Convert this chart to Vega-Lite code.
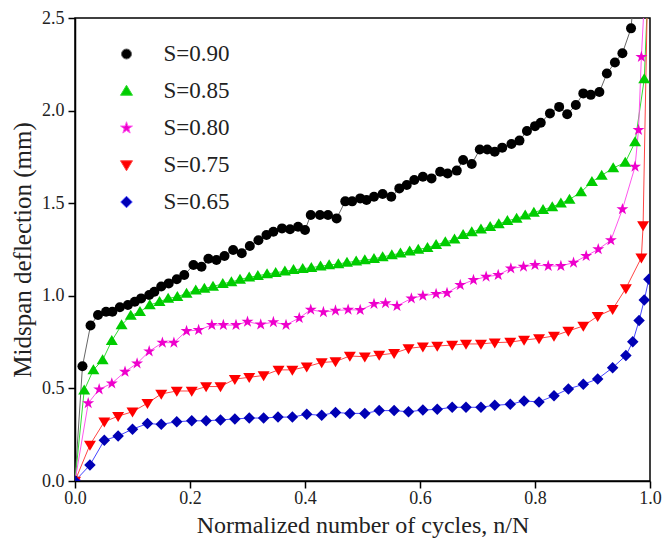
{
  "$schema": "https://vega.github.io/schema/vega-lite/v6.json",
  "width": 575,
  "height": 463,
  "autosize": {"type": "none"},
  "padding": {"left": 75, "top": 18, "right": 12, "bottom": 58},
  "background": "white",
  "config": {
    "view": {"stroke": "#000000", "strokeWidth": 1.5},
    "axis": {
      "grid": false,
      "zindex": 1,
      "labelFlush": false,
      "labelOverlap": false,
      "domainColor": "#000000",
      "domainWidth": 1.5,
      "tickColor": "#000000",
      "tickWidth": 1.5,
      "tickSize": 7,
      "labelFont": "Liberation Serif",
      "labelFontSize": 18,
      "labelColor": "#222222",
      "titleFont": "Liberation Serif",
      "titleFontSize": 24,
      "titleFontWeight": "normal",
      "titleColor": "#222222"
    },
    "legend": {
      "orient": "none", "legendX": 40, "legendY": 24.5, "title": null, "padding": 0,
      "symbolSize": 100, "labelFont": "Liberation Serif", "labelFontSize": 23, "labelColor": "#222222",
      "labelOffset": 25.5, "rowPadding": 13
    }
  },
  "data": {
    "values": [
      {"s": "S=0.90", "x": 0, "y": 0},
      {"s": "S=0.90", "x": 0.013, "y": 0.62},
      {"s": "S=0.90", "x": 0.027, "y": 0.84},
      {"s": "S=0.90", "x": 0.04, "y": 0.896},
      {"s": "S=0.90", "x": 0.054, "y": 0.914},
      {"s": "S=0.90", "x": 0.065, "y": 0.914},
      {"s": "S=0.90", "x": 0.078, "y": 0.938},
      {"s": "S=0.90", "x": 0.092, "y": 0.95},
      {"s": "S=0.90", "x": 0.104, "y": 0.968},
      {"s": "S=0.90", "x": 0.115, "y": 0.986},
      {"s": "S=0.90", "x": 0.129, "y": 1.004},
      {"s": "S=0.90", "x": 0.138, "y": 1.022},
      {"s": "S=0.90", "x": 0.15, "y": 1.05},
      {"s": "S=0.90", "x": 0.163, "y": 1.067},
      {"s": "S=0.90", "x": 0.177, "y": 1.089},
      {"s": "S=0.90", "x": 0.19, "y": 1.112},
      {"s": "S=0.90", "x": 0.206, "y": 1.166},
      {"s": "S=0.90", "x": 0.22, "y": 1.157},
      {"s": "S=0.90", "x": 0.232, "y": 1.2},
      {"s": "S=0.90", "x": 0.246, "y": 1.193},
      {"s": "S=0.90", "x": 0.26, "y": 1.215},
      {"s": "S=0.90", "x": 0.275, "y": 1.247},
      {"s": "S=0.90", "x": 0.29, "y": 1.23},
      {"s": "S=0.90", "x": 0.304, "y": 1.269},
      {"s": "S=0.90", "x": 0.319, "y": 1.3},
      {"s": "S=0.90", "x": 0.333, "y": 1.328},
      {"s": "S=0.90", "x": 0.345, "y": 1.346},
      {"s": "S=0.90", "x": 0.36, "y": 1.364},
      {"s": "S=0.90", "x": 0.374, "y": 1.359},
      {"s": "S=0.90", "x": 0.388, "y": 1.373},
      {"s": "S=0.90", "x": 0.4, "y": 1.355},
      {"s": "S=0.90", "x": 0.41, "y": 1.436},
      {"s": "S=0.90", "x": 0.426, "y": 1.436},
      {"s": "S=0.90", "x": 0.44, "y": 1.436},
      {"s": "S=0.90", "x": 0.455, "y": 1.418},
      {"s": "S=0.90", "x": 0.47, "y": 1.51},
      {"s": "S=0.90", "x": 0.482, "y": 1.51},
      {"s": "S=0.90", "x": 0.496, "y": 1.526},
      {"s": "S=0.90", "x": 0.507, "y": 1.517},
      {"s": "S=0.90", "x": 0.52, "y": 1.535},
      {"s": "S=0.90", "x": 0.535, "y": 1.55},
      {"s": "S=0.90", "x": 0.55, "y": 1.535},
      {"s": "S=0.90", "x": 0.564, "y": 1.58},
      {"s": "S=0.90", "x": 0.577, "y": 1.598},
      {"s": "S=0.90", "x": 0.59, "y": 1.625},
      {"s": "S=0.90", "x": 0.605, "y": 1.643},
      {"s": "S=0.90", "x": 0.62, "y": 1.634},
      {"s": "S=0.90", "x": 0.635, "y": 1.67},
      {"s": "S=0.90", "x": 0.648, "y": 1.66},
      {"s": "S=0.90", "x": 0.664, "y": 1.676},
      {"s": "S=0.90", "x": 0.675, "y": 1.733},
      {"s": "S=0.90", "x": 0.69, "y": 1.712},
      {"s": "S=0.90", "x": 0.704, "y": 1.79},
      {"s": "S=0.90", "x": 0.717, "y": 1.79},
      {"s": "S=0.90", "x": 0.73, "y": 1.778},
      {"s": "S=0.90", "x": 0.743, "y": 1.8},
      {"s": "S=0.90", "x": 0.759, "y": 1.82},
      {"s": "S=0.90", "x": 0.773, "y": 1.838},
      {"s": "S=0.90", "x": 0.786, "y": 1.89},
      {"s": "S=0.90", "x": 0.8, "y": 1.916},
      {"s": "S=0.90", "x": 0.81, "y": 1.934},
      {"s": "S=0.90", "x": 0.826, "y": 1.985},
      {"s": "S=0.90", "x": 0.842, "y": 2.02},
      {"s": "S=0.90", "x": 0.856, "y": 1.98},
      {"s": "S=0.90", "x": 0.871, "y": 2.03},
      {"s": "S=0.90", "x": 0.884, "y": 2.093},
      {"s": "S=0.90", "x": 0.897, "y": 2.085},
      {"s": "S=0.90", "x": 0.912, "y": 2.1},
      {"s": "S=0.90", "x": 0.925, "y": 2.2},
      {"s": "S=0.90", "x": 0.939, "y": 2.26},
      {"s": "S=0.90", "x": 0.952, "y": 2.31},
      {"s": "S=0.90", "x": 0.967, "y": 2.444},
      {"s": "S=0.90", "x": 0.974, "y": 2.7},

      {"s": "S=0.85", "x": 0, "y": 0},
      {"s": "S=0.85", "x": 0.016, "y": 0.49},
      {"s": "S=0.85", "x": 0.032, "y": 0.6},
      {"s": "S=0.85", "x": 0.048, "y": 0.653},
      {"s": "S=0.85", "x": 0.064, "y": 0.757},
      {"s": "S=0.85", "x": 0.081, "y": 0.842},
      {"s": "S=0.85", "x": 0.097, "y": 0.893},
      {"s": "S=0.85", "x": 0.113, "y": 0.914},
      {"s": "S=0.85", "x": 0.13, "y": 0.95},
      {"s": "S=0.85", "x": 0.147, "y": 0.968},
      {"s": "S=0.85", "x": 0.162, "y": 0.986},
      {"s": "S=0.85", "x": 0.178, "y": 0.995},
      {"s": "S=0.85", "x": 0.194, "y": 1.013},
      {"s": "S=0.85", "x": 0.21, "y": 1.03},
      {"s": "S=0.85", "x": 0.225, "y": 1.04},
      {"s": "S=0.85", "x": 0.24, "y": 1.05},
      {"s": "S=0.85", "x": 0.257, "y": 1.065},
      {"s": "S=0.85", "x": 0.272, "y": 1.075},
      {"s": "S=0.85", "x": 0.287, "y": 1.088},
      {"s": "S=0.85", "x": 0.303, "y": 1.1},
      {"s": "S=0.85", "x": 0.318, "y": 1.108},
      {"s": "S=0.85", "x": 0.334, "y": 1.118},
      {"s": "S=0.85", "x": 0.349, "y": 1.125},
      {"s": "S=0.85", "x": 0.365, "y": 1.132},
      {"s": "S=0.85", "x": 0.38, "y": 1.14},
      {"s": "S=0.85", "x": 0.396, "y": 1.146},
      {"s": "S=0.85", "x": 0.411, "y": 1.152},
      {"s": "S=0.85", "x": 0.427, "y": 1.16},
      {"s": "S=0.85", "x": 0.442, "y": 1.166},
      {"s": "S=0.85", "x": 0.458, "y": 1.172},
      {"s": "S=0.85", "x": 0.473, "y": 1.18},
      {"s": "S=0.85", "x": 0.489, "y": 1.186},
      {"s": "S=0.85", "x": 0.504, "y": 1.193},
      {"s": "S=0.85", "x": 0.52, "y": 1.2},
      {"s": "S=0.85", "x": 0.535, "y": 1.21},
      {"s": "S=0.85", "x": 0.551, "y": 1.22},
      {"s": "S=0.85", "x": 0.566, "y": 1.23},
      {"s": "S=0.85", "x": 0.582, "y": 1.24},
      {"s": "S=0.85", "x": 0.597, "y": 1.25},
      {"s": "S=0.85", "x": 0.613, "y": 1.26},
      {"s": "S=0.85", "x": 0.628, "y": 1.275},
      {"s": "S=0.85", "x": 0.644, "y": 1.29},
      {"s": "S=0.85", "x": 0.66, "y": 1.305},
      {"s": "S=0.85", "x": 0.675, "y": 1.33},
      {"s": "S=0.85", "x": 0.69, "y": 1.345},
      {"s": "S=0.85", "x": 0.706, "y": 1.36},
      {"s": "S=0.85", "x": 0.722, "y": 1.373},
      {"s": "S=0.85", "x": 0.737, "y": 1.388},
      {"s": "S=0.85", "x": 0.752, "y": 1.405},
      {"s": "S=0.85", "x": 0.768, "y": 1.418},
      {"s": "S=0.85", "x": 0.783, "y": 1.435},
      {"s": "S=0.85", "x": 0.798, "y": 1.45},
      {"s": "S=0.85", "x": 0.814, "y": 1.465},
      {"s": "S=0.85", "x": 0.83, "y": 1.48},
      {"s": "S=0.85", "x": 0.845, "y": 1.5},
      {"s": "S=0.85", "x": 0.86, "y": 1.52},
      {"s": "S=0.85", "x": 0.88, "y": 1.56},
      {"s": "S=0.85", "x": 0.899, "y": 1.616},
      {"s": "S=0.85", "x": 0.916, "y": 1.65},
      {"s": "S=0.85", "x": 0.936, "y": 1.69},
      {"s": "S=0.85", "x": 0.957, "y": 1.72},
      {"s": "S=0.85", "x": 0.974, "y": 1.83},
      {"s": "S=0.85", "x": 0.99, "y": 2.17},
      {"s": "S=0.85", "x": 0.997, "y": 2.7},

      {"s": "S=0.80", "x": 0, "y": 0},
      {"s": "S=0.80", "x": 0.023, "y": 0.42},
      {"s": "S=0.80", "x": 0.042, "y": 0.495},
      {"s": "S=0.80", "x": 0.064, "y": 0.527},
      {"s": "S=0.80", "x": 0.087, "y": 0.59},
      {"s": "S=0.80", "x": 0.108, "y": 0.635},
      {"s": "S=0.80", "x": 0.129, "y": 0.7},
      {"s": "S=0.80", "x": 0.152, "y": 0.747},
      {"s": "S=0.80", "x": 0.172, "y": 0.747},
      {"s": "S=0.80", "x": 0.194, "y": 0.81},
      {"s": "S=0.80", "x": 0.215, "y": 0.815},
      {"s": "S=0.80", "x": 0.238, "y": 0.842},
      {"s": "S=0.80", "x": 0.258, "y": 0.842},
      {"s": "S=0.80", "x": 0.28, "y": 0.842},
      {"s": "S=0.80", "x": 0.3, "y": 0.86},
      {"s": "S=0.80", "x": 0.323, "y": 0.845},
      {"s": "S=0.80", "x": 0.345, "y": 0.858},
      {"s": "S=0.80", "x": 0.367, "y": 0.843},
      {"s": "S=0.80", "x": 0.39, "y": 0.88},
      {"s": "S=0.80", "x": 0.41, "y": 0.925},
      {"s": "S=0.80", "x": 0.432, "y": 0.912},
      {"s": "S=0.80", "x": 0.453, "y": 0.92},
      {"s": "S=0.80", "x": 0.475, "y": 0.925},
      {"s": "S=0.80", "x": 0.496, "y": 0.923},
      {"s": "S=0.80", "x": 0.52, "y": 0.956},
      {"s": "S=0.80", "x": 0.54, "y": 0.96},
      {"s": "S=0.80", "x": 0.56, "y": 0.945},
      {"s": "S=0.80", "x": 0.585, "y": 0.986},
      {"s": "S=0.80", "x": 0.605, "y": 1.0},
      {"s": "S=0.80", "x": 0.628, "y": 1.01},
      {"s": "S=0.80", "x": 0.647, "y": 1.015},
      {"s": "S=0.80", "x": 0.67, "y": 1.058},
      {"s": "S=0.80", "x": 0.693, "y": 1.085},
      {"s": "S=0.80", "x": 0.715, "y": 1.103},
      {"s": "S=0.80", "x": 0.736, "y": 1.112},
      {"s": "S=0.80", "x": 0.758, "y": 1.148},
      {"s": "S=0.80", "x": 0.78, "y": 1.157},
      {"s": "S=0.80", "x": 0.8, "y": 1.166},
      {"s": "S=0.80", "x": 0.823, "y": 1.161},
      {"s": "S=0.80", "x": 0.845, "y": 1.161},
      {"s": "S=0.80", "x": 0.867, "y": 1.179},
      {"s": "S=0.80", "x": 0.889, "y": 1.215},
      {"s": "S=0.80", "x": 0.91, "y": 1.251},
      {"s": "S=0.80", "x": 0.932, "y": 1.3},
      {"s": "S=0.80", "x": 0.952, "y": 1.467},
      {"s": "S=0.80", "x": 0.974, "y": 1.697},
      {"s": "S=0.80", "x": 0.98, "y": 1.895},
      {"s": "S=0.80", "x": 0.985, "y": 2.29},
      {"s": "S=0.80", "x": 0.992, "y": 2.7},

      {"s": "S=0.75", "x": 0, "y": 0},
      {"s": "S=0.75", "x": 0.026, "y": 0.195},
      {"s": "S=0.75", "x": 0.051, "y": 0.32},
      {"s": "S=0.75", "x": 0.075, "y": 0.35},
      {"s": "S=0.75", "x": 0.1, "y": 0.374},
      {"s": "S=0.75", "x": 0.126, "y": 0.42},
      {"s": "S=0.75", "x": 0.15, "y": 0.47},
      {"s": "S=0.75", "x": 0.177, "y": 0.486},
      {"s": "S=0.75", "x": 0.203, "y": 0.486},
      {"s": "S=0.75", "x": 0.228, "y": 0.51},
      {"s": "S=0.75", "x": 0.253, "y": 0.51},
      {"s": "S=0.75", "x": 0.278, "y": 0.55},
      {"s": "S=0.75", "x": 0.303, "y": 0.56},
      {"s": "S=0.75", "x": 0.328, "y": 0.57},
      {"s": "S=0.75", "x": 0.354, "y": 0.6},
      {"s": "S=0.75", "x": 0.378, "y": 0.6},
      {"s": "S=0.75", "x": 0.403, "y": 0.617},
      {"s": "S=0.75", "x": 0.429, "y": 0.64},
      {"s": "S=0.75", "x": 0.453, "y": 0.645},
      {"s": "S=0.75", "x": 0.478, "y": 0.675},
      {"s": "S=0.75", "x": 0.504, "y": 0.671},
      {"s": "S=0.75", "x": 0.529, "y": 0.68},
      {"s": "S=0.75", "x": 0.555, "y": 0.69},
      {"s": "S=0.75", "x": 0.58, "y": 0.716},
      {"s": "S=0.75", "x": 0.605, "y": 0.725},
      {"s": "S=0.75", "x": 0.63, "y": 0.729},
      {"s": "S=0.75", "x": 0.656, "y": 0.734},
      {"s": "S=0.75", "x": 0.68, "y": 0.74},
      {"s": "S=0.75", "x": 0.706, "y": 0.74},
      {"s": "S=0.75", "x": 0.73, "y": 0.747},
      {"s": "S=0.75", "x": 0.757, "y": 0.75},
      {"s": "S=0.75", "x": 0.781, "y": 0.761},
      {"s": "S=0.75", "x": 0.807, "y": 0.77},
      {"s": "S=0.75", "x": 0.833, "y": 0.783},
      {"s": "S=0.75", "x": 0.858, "y": 0.81},
      {"s": "S=0.75", "x": 0.884, "y": 0.837},
      {"s": "S=0.75", "x": 0.909, "y": 0.89},
      {"s": "S=0.75", "x": 0.935, "y": 0.927},
      {"s": "S=0.75", "x": 0.958, "y": 1.04},
      {"s": "S=0.75", "x": 0.985, "y": 1.206},
      {"s": "S=0.75", "x": 0.988, "y": 1.38},
      {"s": "S=0.75", "x": 0.996, "y": 2.7},

      {"s": "S=0.65", "x": 0, "y": 0},
      {"s": "S=0.65", "x": 0.026, "y": 0.086},
      {"s": "S=0.65", "x": 0.051, "y": 0.22},
      {"s": "S=0.65", "x": 0.075, "y": 0.243},
      {"s": "S=0.65", "x": 0.1, "y": 0.28},
      {"s": "S=0.65", "x": 0.126, "y": 0.31},
      {"s": "S=0.65", "x": 0.15, "y": 0.306},
      {"s": "S=0.65", "x": 0.177, "y": 0.32},
      {"s": "S=0.65", "x": 0.203, "y": 0.325},
      {"s": "S=0.65", "x": 0.228, "y": 0.325},
      {"s": "S=0.65", "x": 0.253, "y": 0.33},
      {"s": "S=0.65", "x": 0.278, "y": 0.335},
      {"s": "S=0.65", "x": 0.303, "y": 0.34},
      {"s": "S=0.65", "x": 0.328, "y": 0.34},
      {"s": "S=0.65", "x": 0.353, "y": 0.345},
      {"s": "S=0.65", "x": 0.378, "y": 0.345},
      {"s": "S=0.65", "x": 0.403, "y": 0.36},
      {"s": "S=0.65", "x": 0.429, "y": 0.355},
      {"s": "S=0.65", "x": 0.453, "y": 0.37},
      {"s": "S=0.65", "x": 0.478, "y": 0.365},
      {"s": "S=0.65", "x": 0.504, "y": 0.365},
      {"s": "S=0.65", "x": 0.529, "y": 0.38},
      {"s": "S=0.65", "x": 0.555, "y": 0.38},
      {"s": "S=0.65", "x": 0.58, "y": 0.374},
      {"s": "S=0.65", "x": 0.605, "y": 0.383},
      {"s": "S=0.65", "x": 0.63, "y": 0.387},
      {"s": "S=0.65", "x": 0.656, "y": 0.398},
      {"s": "S=0.65", "x": 0.68, "y": 0.398},
      {"s": "S=0.65", "x": 0.706, "y": 0.398},
      {"s": "S=0.65", "x": 0.73, "y": 0.409},
      {"s": "S=0.65", "x": 0.757, "y": 0.414},
      {"s": "S=0.65", "x": 0.781, "y": 0.432},
      {"s": "S=0.65", "x": 0.807, "y": 0.427},
      {"s": "S=0.65", "x": 0.833, "y": 0.46},
      {"s": "S=0.65", "x": 0.858, "y": 0.497},
      {"s": "S=0.65", "x": 0.884, "y": 0.522},
      {"s": "S=0.65", "x": 0.909, "y": 0.551},
      {"s": "S=0.65", "x": 0.935, "y": 0.612},
      {"s": "S=0.65", "x": 0.958, "y": 0.677},
      {"s": "S=0.65", "x": 0.97, "y": 0.752},
      {"s": "S=0.65", "x": 0.981, "y": 0.866},
      {"s": "S=0.65", "x": 0.99, "y": 0.977},
      {"s": "S=0.65", "x": 0.998, "y": 1.09}
    ]
  },
  "encoding": {
    "x": {
      "field": "x", "type": "quantitative",
      "scale": {"domain": [0, 1], "nice": false, "zero": false},
      "axis": {
        "values": [0, 0.2, 0.4, 0.6, 0.8, 1.0], "format": ".1f", "labelPadding": 1,
        "title": "Normalized number of cycles, n/N", "titlePadding": 6,
        "encode": {"ticks": {"update": {"y2": {"value": -7}}}}
      }
    },
    "y": {
      "field": "y", "type": "quantitative",
      "scale": {"domain": [0, 2.5], "nice": false},
      "axis": {
        "values": [0, 0.5, 1.0, 1.5, 2.0, 2.5], "format": ".1f", "labelPadding": 4,
        "title": "Midspan deflection (mm)", "titlePadding": 6, "titleFontSize": 25,
        "encode": {"ticks": {"update": {"x2": {"value": 7}}}}
      }
    }
  },
  "layer": [
    {
      "mark": {"type": "line", "clip": true, "strokeWidth": 1},
      "encoding": {
        "stroke": {
          "field": "s", "type": "nominal",
          "scale": {"domain": ["S=0.90", "S=0.85", "S=0.80", "S=0.75", "S=0.65"], "range": ["#666666", "#33dd33", "#ff55ee", "#ff4444", "#4444ff"]},
          "legend": {
            "encode": {
              "symbols": {
                "update": {
                  "shape": {"signal": "datum.value === 'S=0.90' ? 'M-4.7,0H4.7M1,0A1,1,0,1,1,-1,0A1,1,0,1,1,1,0Z' : datum.value === 'S=0.85' ? 'M-4.7,0H4.7M0,-1.15L1.2,0.85L-1.2,0.85Z' : datum.value === 'S=0.80' ? 'M-4.7,0H4.7M0,-1.25L0.28,-0.39L1.19,-0.39L0.46,0.15L0.73,1.01L0,0.48L-0.73,1.01L-0.46,0.15L-1.19,-0.39L-0.28,-0.39Z' : datum.value === 'S=0.75' ? 'M-4.7,0H4.7M0,1.15L1.2,-0.85L-1.2,-0.85Z' : 'M-4.7,0H4.7M0,-1.15L1.15,0L0,1.15L-1.15,0Z'"},
                  "fill": {"signal": "datum.value === 'S=0.90' ? '#000000' : datum.value === 'S=0.85' ? '#00cc00' : datum.value === 'S=0.80' ? '#ee00cc' : datum.value === 'S=0.75' ? '#ff0000' : '#0000b4'"},
                  "stroke": {"signal": "datum.value === 'S=0.90' ? '#666666' : datum.value === 'S=0.85' ? '#33dd33' : datum.value === 'S=0.80' ? '#ff55ee' : datum.value === 'S=0.75' ? '#ff4444' : '#4444ff'"},
                  "strokeWidth": {"value": 1},
                  "opacity": {"value": 1}
                }
              }
            }
          }
        }
      }
    },
    {
      "mark": {"type": "point", "clip": true, "filled": true, "opacity": 1, "size": 100, "strokeWidth": 0},
      "encoding": {
        "fill": {
          "field": "s", "type": "nominal",
          "scale": {"domain": ["S=0.90", "S=0.85", "S=0.80", "S=0.75", "S=0.65"], "range": ["#000000", "#00cc00", "#ee00cc", "#ff0000", "#0000b4"]},
          "legend": {
            "encode": {
              "symbols": {
                "update": {
                  "shape": {"signal": "datum.value === 'S=0.90' ? 'M-4.7,0H4.7M1,0A1,1,0,1,1,-1,0A1,1,0,1,1,1,0Z' : datum.value === 'S=0.85' ? 'M-4.7,0H4.7M0,-1.15L1.2,0.85L-1.2,0.85Z' : datum.value === 'S=0.80' ? 'M-4.7,0H4.7M0,-1.25L0.28,-0.39L1.19,-0.39L0.46,0.15L0.73,1.01L0,0.48L-0.73,1.01L-0.46,0.15L-1.19,-0.39L-0.28,-0.39Z' : datum.value === 'S=0.75' ? 'M-4.7,0H4.7M0,1.15L1.2,-0.85L-1.2,-0.85Z' : 'M-4.7,0H4.7M0,-1.15L1.15,0L0,1.15L-1.15,0Z'"},
                  "fill": {"signal": "datum.value === 'S=0.90' ? '#000000' : datum.value === 'S=0.85' ? '#00cc00' : datum.value === 'S=0.80' ? '#ee00cc' : datum.value === 'S=0.75' ? '#ff0000' : '#0000b4'"},
                  "stroke": {"signal": "datum.value === 'S=0.90' ? '#666666' : datum.value === 'S=0.85' ? '#33dd33' : datum.value === 'S=0.80' ? '#ff55ee' : datum.value === 'S=0.75' ? '#ff4444' : '#4444ff'"},
                  "strokeWidth": {"value": 1},
                  "opacity": {"value": 1}
                }
              }
            }
          }
        },
        "shape": {
          "field": "s", "type": "nominal",
          "scale": {"domain": ["S=0.90", "S=0.85", "S=0.80", "S=0.75", "S=0.65"], "range": ["circle", "M0,-1.15L1.2,0.85L-1.2,0.85Z", "M0,-1.25L0.28,-0.39L1.19,-0.39L0.46,0.15L0.73,1.01L0,0.48L-0.73,1.01L-0.46,0.15L-1.19,-0.39L-0.28,-0.39Z", "M0,1.15L1.2,-0.85L-1.2,-0.85Z", "M0,-1.15L1.15,0L0,1.15L-1.15,0Z"]},
          "legend": {
            "encode": {
              "symbols": {
                "update": {
                  "shape": {"signal": "datum.value === 'S=0.90' ? 'M-4.7,0H4.7M1,0A1,1,0,1,1,-1,0A1,1,0,1,1,1,0Z' : datum.value === 'S=0.85' ? 'M-4.7,0H4.7M0,-1.15L1.2,0.85L-1.2,0.85Z' : datum.value === 'S=0.80' ? 'M-4.7,0H4.7M0,-1.25L0.28,-0.39L1.19,-0.39L0.46,0.15L0.73,1.01L0,0.48L-0.73,1.01L-0.46,0.15L-1.19,-0.39L-0.28,-0.39Z' : datum.value === 'S=0.75' ? 'M-4.7,0H4.7M0,1.15L1.2,-0.85L-1.2,-0.85Z' : 'M-4.7,0H4.7M0,-1.15L1.15,0L0,1.15L-1.15,0Z'"},
                  "fill": {"signal": "datum.value === 'S=0.90' ? '#000000' : datum.value === 'S=0.85' ? '#00cc00' : datum.value === 'S=0.80' ? '#ee00cc' : datum.value === 'S=0.75' ? '#ff0000' : '#0000b4'"},
                  "stroke": {"signal": "datum.value === 'S=0.90' ? '#666666' : datum.value === 'S=0.85' ? '#33dd33' : datum.value === 'S=0.80' ? '#ff55ee' : datum.value === 'S=0.75' ? '#ff4444' : '#4444ff'"},
                  "strokeWidth": {"value": 1},
                  "opacity": {"value": 1}
                }
              }
            }
          }
        }
      }
    }
  ]
}
